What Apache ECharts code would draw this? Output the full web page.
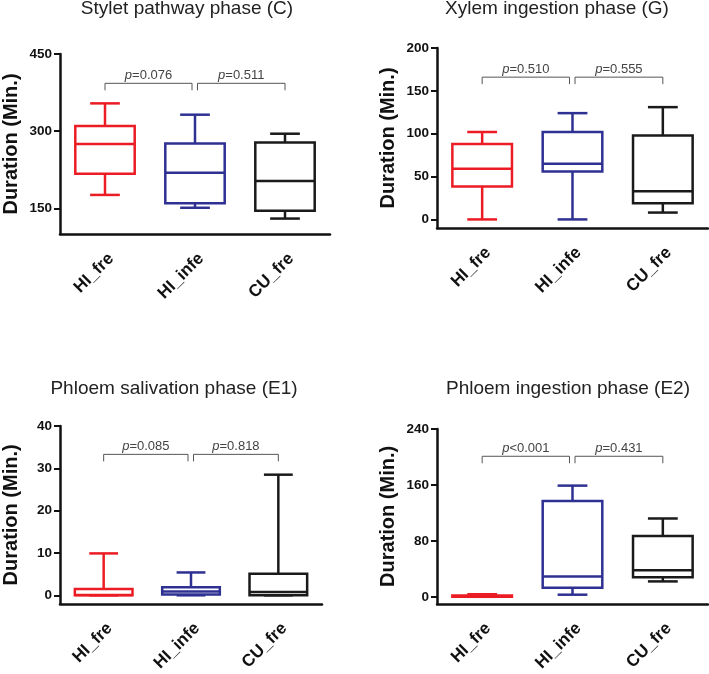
<!DOCTYPE html>
<html><head><meta charset="utf-8">
<script src="https://cdn.jsdelivr.net/npm/echarts@6/dist/echarts.min.js"></script>
<style>html,body{margin:0;padding:0;background:#fff}#c{width:709px;height:674px}</style>
</head><body><div id="c"></div>
<script>
// ---- data ----
const categories = ['HI_fre', 'HI_infe', 'CU_fre'];
const titles = ['Stylet pathway phase (C)', 'Xylem ingestion phase (G)', 'Phloem salivation phase (E1)', 'Phloem ingestion phase (E2)'];
// each row: [low whisker, Q1, median, Q3, high whisker]
const styletC = [[176, 217, 275, 310, 354], [151, 160, 219, 276, 332], [130, 145, 203, 278, 295]];
const xylemG = [[0, 38.5, 59, 88, 102], [0, 56, 65, 102, 124], [8, 19, 33, 98, 131]];
const salivationE1 = [[0, 0, 0.1, 1.5, 9.9], [0, 0.2, 0.9, 1.9, 5.4], [0, 0, 0.8, 5.1, 28.5]];
const ingestionE2 = [[0, 0.2, 0.8, 1.8, 3.6], [3, 13, 29, 137, 159], [22, 28, 38, 87, 112]];
const pLabels = [['=0.076', '=0.511'], ['=0.510', '=0.555'], ['=0.085', '=0.818'], ['<0.001', '=0.431']];
const bracketY = [393, 166, 33.3, 201];
const yMin = [100, -10, -2, -10];
const yMax = [450, 200, 40, 240];
const yTicks = [[150, 300, 450], [0, 50, 100, 150, 200], [0, 10, 20, 30, 40], [0, 80, 160, 240]];
const yName = 'Duration (Min.)';

// ---- styles / layout ----
const panels = [styletC, xylemG, salivationE1, ingestionE2];
const boxColors = ['#EC1C24', '#2E3192', '#1a1a1a'];
const FONT = '"Liberation Sans", Arial, sans-serif';
const grids = [
  {left: 57, top: 54, width: 273, height: 180},
  {left: 437, top: 48, width: 271, height: 180},
  {left: 51, top: 426, width: 271, height: 180},
  {left: 437, top: 429, width: 271, height: 180}
];
const titlePos = [[187, 8.5], [557, 8.5], [174, 388.5], [568, 388.5]];

function renderBox(params, api) {
  const ci = api.value(0);
  const x = api.coord([ci, 0])[0];
  const yLow = api.coord([ci, api.value(1)])[1];
  const yQ1 = api.coord([ci, api.value(2)])[1];
  const yMed = api.coord([ci, api.value(3)])[1];
  const yQ3 = api.coord([ci, api.value(4)])[1];
  const yHigh = api.coord([ci, api.value(5)])[1];
  const band = api.size([1, 0])[0];
  const bw = band * 0.66, cw = bw / 2;
  const st = {stroke: boxColors[ci], lineWidth: 2.5, fill: 'none'};
  return {type: 'group', children: [
    {type: 'line', shape: {x1: x, y1: yHigh, x2: x, y2: yQ3}, style: st},
    {type: 'line', shape: {x1: x, y1: yQ1, x2: x, y2: yLow}, style: st},
    {type: 'line', shape: {x1: x - cw / 2, y1: yHigh, x2: x + cw / 2, y2: yHigh}, style: st},
    {type: 'line', shape: {x1: x - cw / 2, y1: yLow, x2: x + cw / 2, y2: yLow}, style: st},
    {type: 'rect', shape: {x: x - bw / 2, y: yQ3, width: bw, height: yQ1 - yQ3}, style: st},
    {type: 'line', shape: {x1: x - bw / 2, y1: yMed, x2: x + bw / 2, y2: yMed}, style: st}
  ]};
}

function makeBracketRenderer(pi) {
  return function (params, api) {
    const idx = params.dataIndex;
    const xa = api.coord([api.value(0), 0])[0];
    const xb = api.coord([api.value(1), 0])[0];
    const y = api.coord([0, api.value(2)])[1];
    const L = xa + (idx === 0 ? 0 : 2.5);
    const R = xb - (idx === 0 ? 3 : 0);
    return {type: 'group', children: [
      {type: 'polyline', shape: {points: [[L, y + 7], [L, y], [R, y], [R, y + 7]]},
        style: {stroke: '#555', lineWidth: 1, fill: 'none'}},
      {type: 'text', x: (L + R) / 2, y: y - 1,
        style: {text: '{i|p}' + pLabels[pi][idx], align: 'center', verticalAlign: 'bottom',
          fontSize: 13, fontFamily: FONT, fill: '#444',
          rich: {i: {fontStyle: 'italic', fontSize: 13, fontFamily: FONT, fill: '#444'}}}}
    ]};
  };
}

const axisLineStyle = {color: '#111', width: 2.5};
const option = {
  animation: false,
  backgroundColor: '#fff',
  grid: grids,
  xAxis: grids.map((g, i) => ({
    gridIndex: i, type: 'category', data: categories,
    axisLine: {onZero: false, lineStyle: axisLineStyle},
    axisTick: {alignWithLabel: true, length: 6, lineStyle: {color: '#111', width: 2}},
    axisLabel: {rotate: 45, fontSize: 17, fontWeight: 'bold', color: '#111', margin: 16,
      align: 'right', verticalAlign: 'top', fontFamily: FONT},
    splitLine: {show: false}
  })),
  yAxis: grids.map((g, i) => ({
    gridIndex: i, type: 'value', min: yMin[i], max: yMax[i],
    axisLine: {show: true, lineStyle: axisLineStyle},
    axisTick: {show: true, length: 6, customValues: yTicks[i], lineStyle: {color: '#111', width: 2}},
    axisLabel: {customValues: yTicks[i], fontSize: 13.5, fontWeight: 'bold', color: '#111', margin: 8, fontFamily: FONT},
    splitLine: {show: false},
    name: yName, nameLocation: 'middle', nameGap: 39,
    nameTextStyle: {fontSize: 20, fontWeight: 'bold', color: '#111', fontFamily: FONT}
  })),
  graphic: titles.map((t, i) => ({
    type: 'text', x: titlePos[i][0], y: titlePos[i][1],
    style: {text: t, align: 'center', verticalAlign: 'middle', fontSize: 19, fontFamily: FONT, fill: '#222'}
  })),
  series: []
};

panels.forEach((d, i) => {
  option.series.push({
    type: 'custom', xAxisIndex: i, yAxisIndex: i,
    renderItem: renderBox,
    encode: {x: 0, y: [1, 2, 3, 4, 5]},
    data: d.map((r, ci) => [ci].concat(r))
  });
  option.series.push({
    type: 'custom', xAxisIndex: i, yAxisIndex: i,
    renderItem: makeBracketRenderer(i),
    encode: {x: [0, 1], y: 2},
    data: [[0, 1, bracketY[i]], [1, 2, bracketY[i]]]
  });
});

const chart = echarts.init(document.getElementById('c'), null, {renderer: 'canvas'});
chart.setOption(option);
</script>
</body></html>
